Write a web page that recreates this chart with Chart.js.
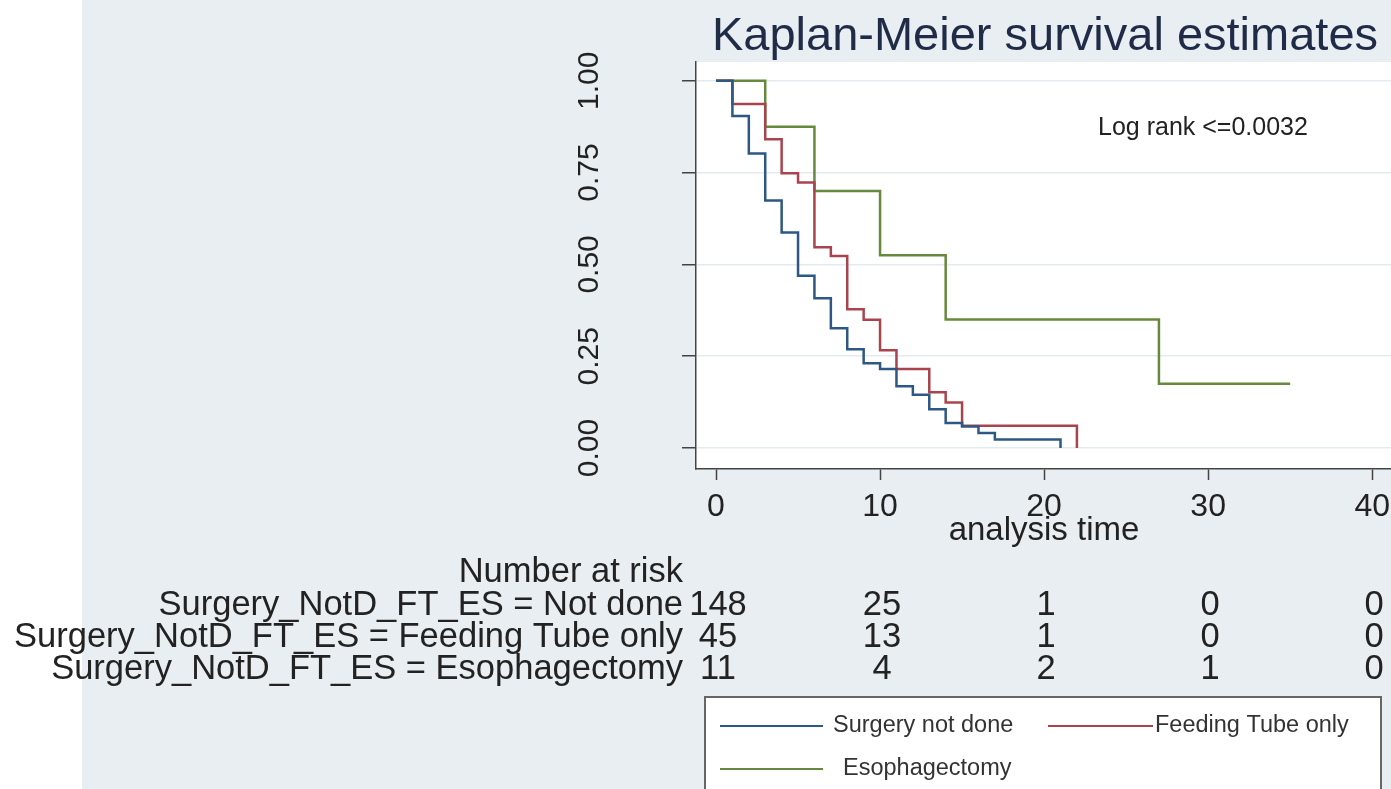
<!DOCTYPE html>
<html>
<head>
<meta charset="utf-8">
<title>Kaplan-Meier survival estimates</title>
<script src="https://cdn.jsdelivr.net/npm/chart.js@4.4.1/dist/chart.umd.min.js"></script>
<style>
  html, body { margin: 0; padding: 0; background: #fff; overflow: hidden; }
  #wrap { position: relative; width: 1391px; height: 789px; overflow: hidden; }
  #wrap canvas { position: absolute; left: 0; top: 0; }
</style>
</head>
<body>
<div id="wrap"><canvas id="km" width="1440" height="789"></canvas></div>
<script>
// survival curves (time in analysis units, survival after each drop)
const timeNotDone = [0, 1, 2, 3, 4, 5, 6, 7, 8, 9, 10, 11, 12, 13, 14, 15, 16, 17, 21];
const survNotDone = [1, 0.904, 0.802, 0.674, 0.587, 0.469, 0.408, 0.326, 0.269, 0.231, 0.215, 0.168, 0.145, 0.106, 0.068, 0.059, 0.041, 0.023, 0];

const timeFeeding = [0, 1, 3, 4, 5, 6, 7, 8, 9, 10, 11, 13, 14, 15, 22];
const survFeeding = [1, 0.937, 0.841, 0.748, 0.723, 0.547, 0.523, 0.378, 0.349, 0.266, 0.215, 0.152, 0.124, 0.061, 0];

const timeEsoph = [0, 3, 6, 10, 14, 27, 35];
const survEsoph = [1, 0.875, 0.7, 0.525, 0.35, 0.175, 0.175];

const xTicks = [0, 10, 20, 30, 40];
const yTicks = [0, 0.25, 0.5, 0.75, 1];

// number at risk table
const riskGroups = [
  "Surgery_NotD_FT_ES = Not done",
  "Surgery_NotD_FT_ES = Feeding Tube only",
  "Surgery_NotD_FT_ES = Esophagectomy"
];
const riskNotDone = [148, 25, 1, 0, 0];
const riskFeeding = [45, 13, 1, 0, 0];
const riskEsoph = [11, 4, 2, 1, 0];

const legendLabels = ["Surgery not done", "Feeding Tube only", "Esophagectomy"];

const BLUE = "#2e5884";
const RED = "#a9444e";
const GREEN = "#67893d";
const FONT = "'Liberation Sans', Arial, sans-serif";

const toPoints = (t, s) => t.map((v, i) => ({ x: v, y: s[i] }));

const decor = {
  id: "decor",
  beforeDraw(chart) {
    const c = chart.ctx;
    const a = chart.chartArea;
    c.save();
    c.fillStyle = "#fff";
    c.fillRect(0, 0, chart.width, chart.height);
    c.fillStyle = "#e8eef1";
    c.fillRect(82, 0, chart.width - 82, chart.height);
    c.fillStyle = "#fff";
    c.fillRect(a.left, a.top, a.right - a.left, a.bottom - a.top);
    c.restore();
  },
  afterDraw(chart) {
    const c = chart.ctx;
    const xs = chart.scales.x;
    c.save();

    // title
    c.fillStyle = "#1f2b47";
    c.font = "47px " + FONT;
    c.textAlign = "center";
    c.textBaseline = "alphabetic";
    c.fillText("Kaplan-Meier survival estimates", 1045, 50);

    // axis title
    c.fillStyle = "#222";
    c.font = "33px " + FONT;
    c.textBaseline = "middle";
    c.fillText("analysis time", 1044, 531);

    // log rank note
    c.font = "25px " + FONT;
    c.textAlign = "left";
    c.fillText("Log rank <=0.0032", 1098, 128);

    // number at risk
    c.font = "34.5px " + FONT;
    c.textAlign = "right";
    c.fillText("Number at risk", 683, 572);
    const rows = [riskNotDone, riskFeeding, riskEsoph];
    rows.forEach((r, i) => {
      const y = 605 + i * 32;
      c.textAlign = "right";
      c.fillText(riskGroups[i], 683, y);
      c.textAlign = "center";
      r.forEach((n, j) => c.fillText(String(n), xs.getPixelForValue(xTicks[j]) + 2, y));
    });

    // legend box
    c.fillStyle = "#fff";
    c.fillRect(705, 697, 676, 120);
    c.strokeStyle = "#666";
    c.lineWidth = 2;
    c.strokeRect(705, 697, 676, 120);
    const items = [
      { col: BLUE, x1: 720, x2: 823, tx: 833, y: 726 },
      { col: RED, x1: 1048, x2: 1153, tx: 1155, y: 726 },
      { col: GREEN, x1: 720, x2: 823, tx: 843, y: 769 }
    ];
    c.font = "23.5px " + FONT;
    c.textAlign = "left";
    items.forEach((it, i) => {
      c.strokeStyle = it.col;
      c.lineWidth = 2;
      c.beginPath();
      c.moveTo(it.x1, it.y);
      c.lineTo(it.x2, it.y);
      c.stroke();
      c.fillStyle = "#333";
      c.fillText(legendLabels[i], it.tx, it.y);
    });
    c.restore();
  }
};

const ds = (label, data, color) => ({
  label, data, borderColor: color, backgroundColor: color,
  borderWidth: 2.5, stepped: "before", pointRadius: 0, fill: false
});

new Chart(document.getElementById("km"), {
  type: "line",
  data: {
    datasets: [
      ds(legendLabels[0], toPoints(timeNotDone, survNotDone), BLUE),
      ds(legendLabels[1], toPoints(timeFeeding, survFeeding), RED),
      ds(legendLabels[2], toPoints(timeEsoph, survEsoph), GREEN)
    ]
  },
  options: {
    responsive: false,
    animation: false,
    layout: { padding: { left: 0, top: 62, right: 35, bottom: 0 } },
    plugins: {
      legend: { display: false },
      tooltip: { enabled: false },
      title: { display: false }
    },
    scales: {
      x: {
        type: "linear",
        min: -1.22,
        max: 42,
        afterBuildTicks: (s) => { s.ticks = xTicks.map((v) => ({ value: v })); },
        afterFit: (s) => { s.height = 789 - 469; s.paddingLeft = 0; s.paddingRight = 0; },
        grid: { drawOnChartArea: false, tickLength: 11, tickColor: "#444", tickWidth: 1.5 },
        border: { color: "#444", width: 1.5 },
        ticks: { font: { family: FONT, size: 32 }, color: "#222", padding: 8, maxRotation: 0, autoSkip: false }
      },
      y: {
        type: "linear",
        min: -0.057,
        max: 1.051,
        afterBuildTicks: (s) => { s.ticks = yTicks.map((v) => ({ value: v })); },
        afterFit: (s) => { s.width = 696; s.paddingTop = 0; s.paddingBottom = 0; },
        grid: { color: "#e3ebef", lineWidth: 1.5, tickLength: 14, tickColor: "#444", tickWidth: 1.5 },
        border: { color: "#444", width: 1.5 },
        ticks: {
          font: { family: FONT, size: 30 }, color: "#222",
          minRotation: 90, maxRotation: 90, crossAlign: "center", padding: 63, autoSkip: false,
          callback: (v) => Number(v).toFixed(2)
        }
      }
    }
  },
  plugins: [decor]
});
</script>
</body>
</html>
